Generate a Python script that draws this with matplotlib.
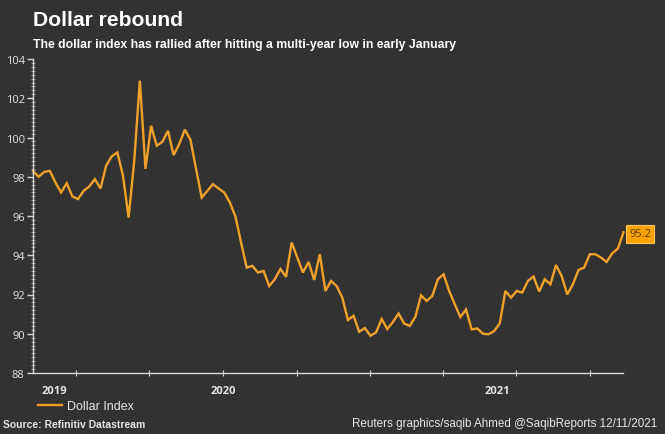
import matplotlib
matplotlib.use("Agg")
import matplotlib.pyplot as plt
import matplotlib.dates as mdates
import pandas as pd
import numpy as np

# ---- data ----
start_date = "2019-11-08"
dollar_index = [
    98.3, 98.0, 98.25, 98.3, 97.7, 97.2, 97.67, 97.0, 96.86, 97.28,
    97.5, 97.88, 97.4, 98.56, 99.04, 99.24, 98.05, 95.92, 98.8, 102.9,
    98.4, 100.6, 99.58, 99.78, 100.34, 99.1, 99.66, 100.4, 99.88, 98.39,
    96.94, 97.28, 97.62, 97.4, 97.2, 96.69, 95.97, 94.65, 93.37, 93.46,
    93.12, 93.2, 92.43, 92.78, 93.3, 92.9, 94.65, 93.88, 93.12, 93.66,
    92.74, 94.05, 92.18, 92.69, 92.43, 91.84, 90.7, 90.92, 90.1, 90.29,
    89.9, 90.07, 90.75, 90.24, 90.6, 91.03, 90.52, 90.4, 90.87, 91.96,
    91.67, 91.93, 92.78, 93.03, 92.18, 91.5, 90.85, 91.24, 90.22, 90.27,
    90.0, 89.97, 90.14, 90.53, 92.18, 91.84, 92.18, 92.1, 92.69, 92.92,
    92.15, 92.78, 92.52, 93.5, 92.94, 92.0, 92.52, 93.25, 93.37, 94.05,
    94.05, 93.88, 93.66, 94.1, 94.34, 95.17,
]
dates = pd.date_range(start=start_date, periods=len(dollar_index), freq="7D")
quarter_ticks = pd.to_datetime(["2020-01-01", "2020-04-01", "2020-07-01", "2020-10-01",
                                "2021-01-01", "2021-04-01", "2021-07-01", "2021-10-01"])
year_labels = ["2019", "2020", "2021"]
year_bounds = pd.to_datetime(["2020-01-01", "2021-01-01"])
y_ticks = [88, 90, 92, 94, 96, 98, 100, 102, 104]

title = "Dollar rebound"
subtitle = "The dollar index has rallied after hitting a multi-year low in early January"
series_name = "Dollar Index"
source = "Source: Refinitiv Datastream"
credit = "Reuters graphics/saqib Ahmed @SaqibReports 12/11/2021"

# ---- style ----
BG = "#323232"
LINE = "#F0A12A"
AXC = "#D8D8D8"
TXT = "#E6E6E6"
narrow = ["Liberation Sans Narrow", "Liberation Sans", "DejaVu Sans"]

fig = plt.figure(figsize=(6.65, 4.35), dpi=100, facecolor=BG)
ax = fig.add_axes([33 / 665, 61 / 435, (623.5 - 33) / 665, (374 - 60) / 435])
ax.set_facecolor(BG)

line, = ax.plot(dates, dollar_index, color=LINE, lw=1.7, solid_joinstyle="miter",
                label=series_name, clip_on=False)

ax.set_xlim(dates[0], dates[-1])
ax.set_ylim(88, 104)

for s in ["top", "right"]:
    ax.spines[s].set_visible(False)
for s in ["left", "bottom"]:
    ax.spines[s].set_color(AXC)
    ax.spines[s].set_linewidth(1.0)

ax.set_yticks(y_ticks)
ax.set_yticklabels([str(v) for v in y_ticks])
ax.yaxis.set_minor_locator(matplotlib.ticker.MultipleLocator(0.2))
ax.tick_params(axis="y", which="major", colors=AXC, labelcolor=TXT, length=4,
               width=1, labelsize=8, pad=2)
ax.tick_params(axis="y", which="minor", colors="#B0B0B0", length=2.5, width=0.6,
               direction="inout")
for lab in ax.get_yticklabels():
    lab.set_family(["Open Sans", "DejaVu Sans"])

# x ticks: quarter marks without labels, year labels centered on spans
ax.set_xticks(quarter_ticks)
ax.set_xticklabels([""] * len(quarter_ticks))
ax.tick_params(axis="x", which="major", colors=AXC, length=4, width=0.8, direction="inout")
edges = [mdates.date2num(dates[0])] + list(mdates.date2num(year_bounds)) + [mdates.date2num(dates[-1])]
mids = [(edges[k] + edges[k + 1]) / 2 for k in range(len(year_labels))]
ax.set_xticks(mids, minor=True)
ax.set_xticklabels(year_labels, minor=True)
ax.tick_params(axis="x", which="minor", length=0, labelcolor=TXT, labelsize=8, pad=9)
for lab in ax.get_xticklabels(minor=True):
    lab.set_family(["Open Sans", "DejaVu Sans"])
    lab.set_fontweight("bold")

# last value label
ax.annotate(f"{dollar_index[-1]:.1f}", xy=(dates[-1], dollar_index[-1]),
            xytext=(4, -1), textcoords="offset points", ha="left", va="center",
            fontsize=8, color="#5a3b00", family=["Open Sans", "DejaVu Sans"],
            bbox=dict(boxstyle="square,pad=0.3", fc="#FFA200", ec="#FFC45A", lw=0.8),
            annotation_clip=False)

# titles
fig.text(33 / 665, 1 - 26 / 435, title, fontsize=15.2, fontweight="bold", color="white",
         family=["Liberation Sans", "DejaVu Sans"], ha="left", va="baseline")
fig.text(33 / 665, 1 - 48 / 435, subtitle, fontsize=8.8, fontweight="bold", color="white",
         family=narrow, ha="left", va="baseline")

# legend
fig.legend(handles=[line], loc="center left", bbox_to_anchor=(33 / 665, 1 - 407 / 435),
           frameon=False, handlelength=1.9, handletextpad=0.4,
           labelcolor=TXT, prop={"family": narrow, "size": 9}, borderaxespad=0)

fig.text(3 / 665, 1 - 428 / 435, source, fontsize=7.5, color=TXT, family=narrow,
         ha="left", va="baseline", fontweight="bold")
fig.text(657 / 665, 1 - 427 / 435, credit, fontsize=8.4, color=TXT, family=narrow,
         ha="right", va="baseline")

fig.savefig("out.png", dpi=100, facecolor=BG)
